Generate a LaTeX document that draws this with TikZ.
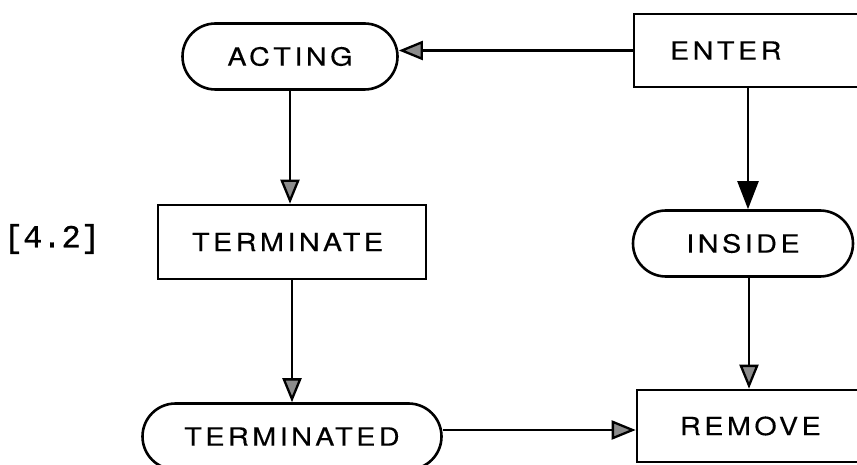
\documentclass[tikz,border=0pt]{standalone}
\usepackage{fontspec}
\usetikzlibrary{arrows.meta,shapes}
\newfontfamily\boxfont[FakeStretch=1.15,LetterSpace=14,FakeBold=0.3]{TeX Gyre Heros}
\newfontfamily\tagfont[FakeBold=0.8]{Liberation Mono}
\tikzstyle{state}=[rounded rectangle,draw,line width=2.6pt,minimum height=66pt,inner sep=0pt,font=\boxfont\fontsize{25}{30}\selectfont]
\tikzstyle{action}=[rectangle,draw,line width=2.6pt,inner sep=0pt,align=left,font=\boxfont\fontsize{25}{30}\selectfont]
\tikzstyle{flow}=[draw,line width=2.3pt,-{Triangle[length=24pt,width=19pt,fill=black!45]}]
\tikzstyle{bigflow}=[draw,line width=2.3pt,-{Triangle[length=28pt,width=21pt]}]

\begin{document}
\begin{tikzpicture}[x=1pt,y=-1pt]
    \clip (0,0) rectangle (857,465);
    % the number at the left
    \node[font=\tagfont\fontsize{32}{34}\selectfont] (tag) at (52,239) {[4.2]};
    % First the rounded states
    \foreach \pos/\name/\len/\txt in {{(290,56.5)/acting/215/ACTING}, {(743,243.5)/inside/220/INSIDE}, {(292,436.5)/terminated/299/TERMINATED}}
        \node[state,minimum width=\len pt] (\name) at \pos {\txt};
    % then the boxes
    \foreach \pos/\name/\len/\high/\tw/\txt in {{(292,242)/terminate/268/74/200/TERMINATE}, {(748,50.5)/enter/228/73/156/ENTER}, {(749,426)/remove/224/72/138/REMOVE}}
        \node[action,minimum width=\len pt,minimum height=\high pt,text width=\tw pt] (\name) at \pos {\txt};
    \coordinate (junction) at ([yshift=-4pt]remove.west);
    % Connect them
    \path[flow] (enter.west) -- (enter.west -| acting.east);
    \path[flow] (acting.south) -- (acting.south |- terminate.north);
    \path[flow] (terminate.south) -- (terminate.south |- terminated.north);
    \path[bigflow] (enter.south) -- (enter.south |- inside.north);
    \path[flow] (remove.north |- inside.south) -- (remove.north);
    \path[flow] (junction -| terminated.east) -- (junction);
\end{tikzpicture}
\end{document}
